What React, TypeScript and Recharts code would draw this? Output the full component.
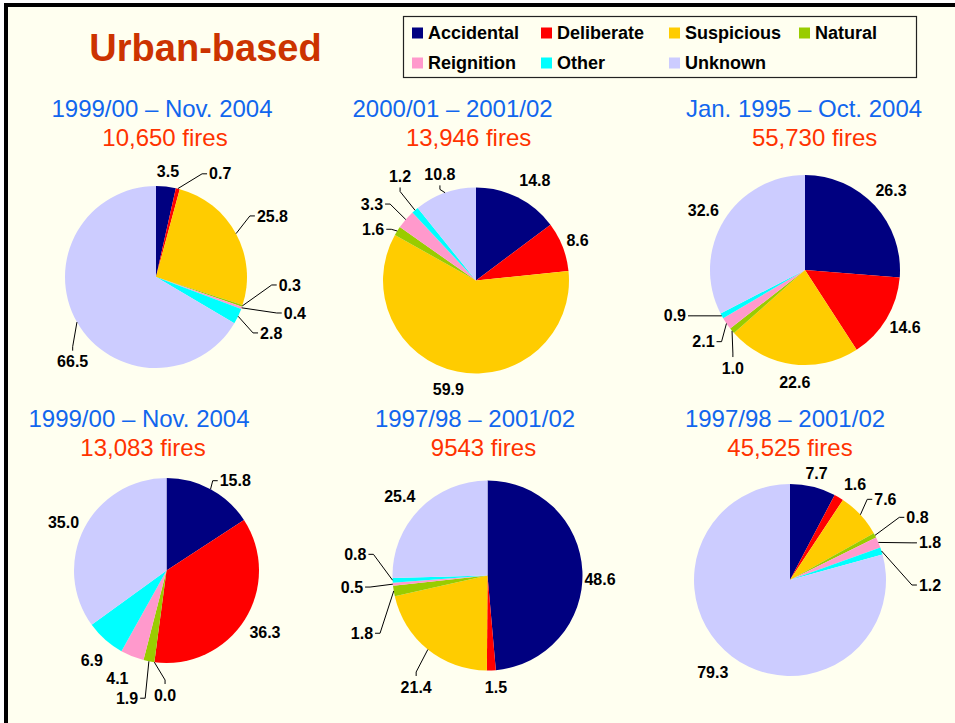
import { PieChart, Pie, Cell } from "recharts";

// cause categories and their slice colours
const causes = ["Accidental", "Deliberate", "Suspicious", "Natural", "Reignition", "Other", "Unknown"];
const causeColors = ["#000080", "#FF0000", "#FFCC00", "#99CC00", "#FF99CC", "#00FFFF", "#CCCCFF"];

// panel headings
const periods = [
  "1999/00 – Nov. 2004",
  "2000/01 – 2001/02",
  "Jan. 1995 – Oct. 2004",
  "1999/00 – Nov. 2004",
  "1997/98 – 2001/02",
  "1997/98 – 2001/02",
];
const fireCounts = ["10,650 fires", "13,946 fires", "55,730 fires", "13,083 fires", "9543 fires", "45,525 fires"];

// % share of fires by cause (same order as causes)
const shares1 = [3.5, 0.7, 25.8, 0.3, 0.4, 2.8, 66.5];
const shares2 = [14.8, 8.6, 59.9, 1.6, 3.3, 1.2, 10.8];
const shares3 = [26.3, 14.6, 22.6, 1.0, 2.1, 0.9, 32.6];
const shares4 = [15.8, 36.3, 0.0, 1.9, 4.1, 6.9, 35.0];
const shares5 = [48.6, 1.5, 21.4, 1.8, 0.5, 0.8, 25.4];
const shares6 = [7.7, 1.6, 7.6, 0.8, 1.8, 1.2, 79.3];
const allShares = [shares1, shares2, shares3, shares4, shares5, shares6];

// layout of each panel: pie centre/radius and heading centres
const panels = [
  { cx: 156, cy: 277, r: 91, t1: 162, t2: 165, ty: 117 },
  { cx: 476, cy: 280.5, r: 93, t1: 452.6, t2: 468.6, ty: 117 },
  { cx: 805, cy: 270, r: 95, t1: 804, t2: 814.6, ty: 117 },
  { cx: 166.5, cy: 570.5, r: 92.5, t1: 139, t2: 143, ty: 427 },
  { cx: 487.5, cy: 575.5, r: 95, t1: 475, t2: 483.5, ty: 427 },
  { cx: 790, cy: 580, r: 96, t1: 785, t2: 790, ty: 427 },
];

// label placement: [angle shift (deg, clockwise), distance past rim, mode]
// mode: n = plain, s = leader + side text, b = leader + text below, a = leader + text above
type Place = [number, number, string];
const labelPlaces: Place[][] = [
  [[0.2, 15, "n"], [10.2, 22, "s"], [-4.6, 21, "s"], [-14.6, 25, "s"], [-3.2, 35, "s"], [4.4, 21, "s"], [-10.2, 17.6, "b"]],
  [[3.9, 23, "n"], [0, 16, "n"], [2.6, 19, "n"], [-1, 6, "s"], [0.7, 22, "s"], [0.5, 24, "a"], [-2.2, 5, "a"]],
  [[0, 22, "n"], [-0.9, 20.5, "n"], [-2.5, 17.5, "n"], [-9.2, 15, "b"], [-6.4, 15, "s"], [6.6, 26, "s"], [-1.1, 22.7, "n"]],
  [[-1.2, 8.5, "s"], [0.1, 24, "n"], [-6.8, 17, "b"], [-1.5, 37, "s"], [2.7, 26, "n"], [-1.7, 24, "n"], [-2.2, 21, "n"]],
  [[4.4, 17.6, "n"], [-2, 17, "n"], [-2.4, 25, "b"], [-18.9, 27, "s"], [-0.4, 23, "s"], [13.4, 21, "s"], [-2.3, 23, "n"]],
  [[0.1, 14, "n"], [3.5, 20, "n"], [-3.4, 15.7, "s"], [-2.1, 30, "s"], [6.1, 31.5, "s"], [20, 26, "s"], [2.5, 24.7, "n"]],
];

const FONT = "'Liberation Sans', Arial, sans-serif";
const CREAM = "#FFFFF0";

function polar(cx: number, cy: number, deg: number, d: number): [number, number] {
  const rad = (deg * Math.PI) / 180;
  return [cx + d * Math.sin(rad), cy - d * Math.cos(rad)];
}

function makeLabel(places: Place[]) {
  return (props: any) => {
    const { cx, cy, midAngle, outerRadius, index, value } = props;
    const [shift, extra, mode] = places[index];
    const mid = 90 - midAngle;
    const [ax, ay] = polar(cx, cy, mid + shift, outerRadius + extra);
    const txt = Number(value).toFixed(1);
    const textProps = { fontFamily: FONT, fontSize: 16, fontWeight: 700, fill: "#000" };
    if (mode === "n") {
      return (
        <text x={ax} y={ay} dy="0.35em" textAnchor="middle" {...textProps}>
          {txt}
        </text>
      );
    }
    const [ex, ey] = polar(cx, cy, mid, outerRadius);
    if (mode === "s") {
      const dir = ax >= cx ? 1 : -1;
      return (
        <g>
          <path d={`M${ex},${ey}L${ax},${ay}L${ax + dir * 5},${ay}`} stroke="#000" fill="none" strokeWidth={1} />
          <text x={ax + dir * 7} y={ay} dy="0.35em" textAnchor={dir > 0 ? "start" : "end"} {...textProps}>
            {txt}
          </text>
        </g>
      );
    }
    const down = mode === "b" ? 1 : -1;
    return (
      <g>
        <path d={`M${ex},${ey}L${ax},${ay}L${ax},${ay + down * 4}`} stroke="#000" fill="none" strokeWidth={1} />
        <text x={ax} y={ay + down * 15} dy="0.35em" textAnchor="middle" {...textProps}>
          {txt}
        </text>
      </g>
    );
  };
}

const legendCols = [412, 541, 669, 799];
const legendRows = [33, 63];

function Backdrop() {
  return (
    <svg width={955} height={723} style={{ position: "absolute", left: 0, top: 0 }}>
      <rect x={0} y={0} width={955} height={723} fill="#fff" />
      <rect x={4} y={3} width={951} height={720} fill={CREAM} />
      <rect x={4} y={3} width={951} height={4} fill="#000" />
      <rect x={4} y={3} width={4} height={720} fill="#000" />
      <text x={205.5} y={61} textAnchor="middle" fontFamily={FONT} fontSize={38} fontWeight={700} fill="#CC3300">
        Urban-based
      </text>
      <rect x={403.5} y={16.5} width={513} height={61} fill={CREAM} stroke="#222" strokeWidth={1.2} />
      {causes.map((c, i) => {
        const x = legendCols[i < 4 ? i : i - 4 + (i === 6 ? 0 : 0)];
        const y = legendRows[i < 4 ? 0 : 1];
        return (
          <g key={c}>
            <rect x={x} y={y - 5.5} width={11} height={11} fill={causeColors[i]} />
            <text x={x + 16} y={y} dy="0.35em" fontFamily={FONT} fontSize={18} fontWeight={700} fill="#000">
              {c}
            </text>
          </g>
        );
      })}
      {panels.map((p, i) => (
        <g key={i} fontFamily={FONT} fontSize={24} textAnchor="middle">
          <text x={p.t1} y={p.ty} fill="#1166EE">
            {periods[i]}
          </text>
          <text x={p.t2} y={p.ty + 28.5} fill="#FF3300">
            {fireCounts[i]}
          </text>
        </g>
      ))}
    </svg>
  );
}

export default function App() {
  return (
    <div style={{ position: "absolute", left: 0, top: 0, width: 955, height: 723 }}>
      <Backdrop />
      <div style={{ position: "absolute", left: 0, top: 0 }}>
        <PieChart width={955} height={723} margin={{ top: 0, right: 0, bottom: 0, left: 0 }}>
          {panels.map((p, k) => (
            <Pie
              key={k}
              data={allShares[k].map((v, i) => ({ name: causes[i], value: v }))}
              dataKey="value"
              nameKey="name"
              cx={p.cx}
              cy={p.cy}
              outerRadius={p.r}
              startAngle={90}
              endAngle={-270}
              stroke="none"
              labelLine={false}
              label={makeLabel(labelPlaces[k])}
              isAnimationActive={false}
            >
              {allShares[k].map((_, i) => (
                <Cell key={i} fill={causeColors[i]} />
              ))}
            </Pie>
          ))}
        </PieChart>
      </div>
    </div>
  );
}
